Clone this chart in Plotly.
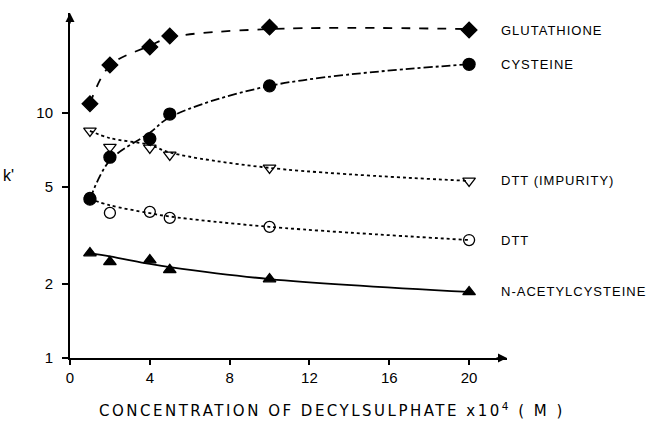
import plotly.graph_objects as go
import math

# Concentration of decylsulphate x10^4 (M)
conc = [1, 2, 4, 5, 10, 20]

# Measured k' values (markers)
glutathione = [10.9, 15.7, 18.6, 20.6, 22.4, 21.8]
cysteine = [4.45, 6.6, 7.85, 9.9, 12.9, 15.8]
dtt_impurity = [8.45, 7.26, 7.2, 6.74, 5.97, 5.28]
dtt = [4.5, 3.91, 3.95, 3.73, 3.43, 3.03]
nac = [2.68, 2.47, 2.51, 2.29, 2.1, 1.86]

# Fitted curves at the same concentrations
glutathione_fit = [10.9, 15.6, 18.8, 20.3, 22.0, 22.0]
cysteine_fit = [4.45, 6.4, 8.3, 9.6, 12.9, 15.8]
dtt_impurity_fit = [8.45, 7.9, 7.4, 6.9, 5.97, 5.28]
dtt_fit = [4.46, 4.2, 3.9, 3.78, 3.43, 3.03]
nac_fit = [2.68, 2.6, 2.42, 2.35, 2.1, 1.86]

labels = ["GLUTATHIONE", "CYSTEINE", "DTT (IMPURITY)", "DTT", "N-ACETYLCYSTEINE"]

x_ticks = [0, 4, 8, 12, 16, 20]
y_ticks = [1, 2, 5, 10]

series = [
    (glutathione, glutathione_fit, "diamond", 12, "dash"),
    (cysteine, cysteine_fit, "circle", 12, "dashdot"),
    (dtt_impurity, dtt_impurity_fit, "triangle-down-open", 11, "dot"),
    (dtt, dtt_fit, "circle-open", 11, "dot"),
    (nac, nac_fit, "triangle-up", 11, "solid"),
]

fig = go.Figure()
for vals, fit, sym, size, dash in series:
    fig.add_trace(go.Scatter(
        x=conc, y=fit, mode="lines",
        line=dict(color="black", width=1.8, dash=dash, shape="spline", smoothing=1.0),
        hoverinfo="skip", showlegend=False))
for vals, fit, sym, size, dash in series:
    fig.add_trace(go.Scatter(
        x=conc, y=vals, mode="markers",
        marker=dict(symbol=sym, size=size, color="black", line=dict(color="black", width=1.3)),
        showlegend=False))

font_fam = "Liberation Sans, Arial, sans-serif"
annotations = []
for (vals, fit, sym, size, dash), lab in zip(series, labels):
    annotations.append(dict(
        x=21.5, y=math.log10(vals[-1]), xref="x", yref="y", text=lab, showarrow=False,
        xanchor="left", yanchor="middle", font=dict(family=font_fam, size=13, color="black")))

# axis arrowheads
annotations.append(dict(x=1, y=0, xref="paper", yref="paper", ax=-12, ay=0, text="",
                        showarrow=True, arrowhead=2, arrowsize=1.2, arrowwidth=1.5, arrowcolor="black"))
annotations.append(dict(x=0, y=1, xref="paper", yref="paper", ax=0, ay=12, text="",
                        showarrow=True, arrowhead=2, arrowsize=1.2, arrowwidth=1.5, arrowcolor="black"))

# axis titles
annotations.append(dict(x=0.062, y=-0.152, xref="paper", yref="paper", xanchor="left", yanchor="middle",
                        text="CONCENTRATION OF DECYLSULPHATE x10<sup>4</sup> ( M )", showarrow=False,
                        font=dict(family="DejaVu Sans, sans-serif", size=15, color="black")))
annotations.append(dict(x=-0.14, y=0.53, xref="paper", yref="paper", text="k'", xanchor="center",
                        showarrow=False, font=dict(family=font_fam, size=16, color="black")))

fig.update_layout(
    width=650, height=427,
    margin=dict(l=70, r=143, t=13, b=69),
    paper_bgcolor="white", plot_bgcolor="white",
    font=dict(family=font_fam, size=15, color="black"),
    annotations=annotations,
    xaxis=dict(range=[0, 21.9], tickvals=x_ticks, ticktext=[str(t) for t in x_ticks],
               showgrid=False, zeroline=False, showline=True, linecolor="black", linewidth=2,
               ticks="outside", ticklen=5, tickwidth=1.5, tickcolor="black",
               tickfont=dict(family=font_fam, size=15)),
    yaxis=dict(type="log", range=[0, 1.408], tickvals=y_ticks, ticktext=[str(t) for t in y_ticks],
               showgrid=False, zeroline=False, showline=True, linecolor="black", linewidth=2,
               ticks="outside", ticklen=6, tickwidth=1.5, tickcolor="black", ticklabelstandoff=6,
               tickfont=dict(family=font_fam, size=15)),
)

post = """
document.querySelectorAll('.annotation-text').forEach(function(e){
  var t = e.textContent || '';
  var sp = null;
  if (t.indexOf('CONCENTRATION') === 0) { sp = 2.5; }
  else if (t.length > 2) { sp = 1; }
  if (sp === null) return;
  var w0 = e.getComputedTextLength();
  e.style.letterSpacing = sp + 'px';
  var w1 = e.getComputedTextLength();
  var x = parseFloat(e.getAttribute('x'));
  if (!isNaN(x)) { e.setAttribute('x', x + (w1 - w0) / 2); }
});
"""

fig.write_html("out.html", post_script=post)
